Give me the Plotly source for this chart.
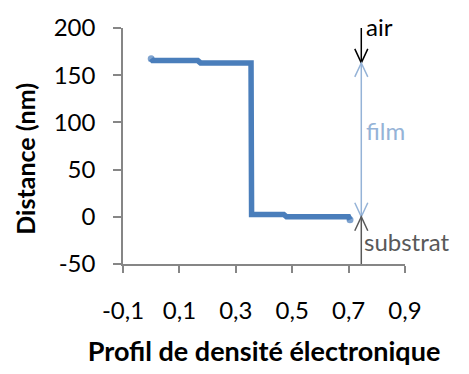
import plotly.graph_objects as go

# Electron density profile vs depth
density = [0.000, 0.005, 0.165, 0.175, 0.354, 0.356, 0.470, 0.480, 0.700, 0.705]
distance = [167.5, 165.5, 165.5, 163.0, 163.0, 2.5, 2.5, 0.0, 0.0, -3.0]

x_ticks = [-0.1, 0.1, 0.3, 0.5, 0.7, 0.9]
x_ticklabels = ["-0,1", "0,1", "0,3", "0,5", "0,7", "0,9"]
y_ticks = [-50, 0, 50, 100, 150, 200]
y_ticklabels = ["-50", "0", "50", "100", "150", "200"]

# Layer markers: film spans from the substrate surface to the air interface
marker_x = 0.745
film_top = 163
film_bottom = 0
air_top = 212
axis_bottom = -50

FONT = "Lato"
BLUE = "#4A7EBB"
LIGHT = "#95B3D7"
GREY = "#595959"
AXIS = "#868686"

fig = go.Figure()
# round caps at both ends of the profile
end_sizes = [7] + [0] * (len(density) - 2) + [7]
fig.add_trace(go.Scatter(
    x=density, y=distance, mode="lines+markers",
    line=dict(color=BLUE, width=5.5),
    marker=dict(color=BLUE, size=end_sizes, line=dict(width=0)),
    showlegend=False, hoverinfo="skip",
))

shapes = []


def vline(y0, y1, color):
    shapes.append(dict(type="line", xref="x", yref="y", x0=marker_x, x1=marker_x,
                       y0=y0, y1=y1, line=dict(color=color, width=1.5)))


def head(y, color, down):
    s = 1 if down else -1
    shapes.append(dict(type="path", xref="x", yref="y",
                       xsizemode="pixel", ysizemode="pixel",
                       xanchor=marker_x, yanchor=y,
                       path=f"M -6.5,{14*s} L 0,0 L 6.5,{14*s}",
                       line=dict(color=color, width=1.5)))


# air arrow (pointing down onto the film surface)
vline(air_top, film_top, "black")
head(film_top, "black", True)
# film double arrow
vline(film_top, film_bottom, LIGHT)
head(film_top, LIGHT, False)
head(film_bottom, LIGHT, True)
# substrate arrow (pointing up to the interface)
vline(axis_bottom, film_bottom, GREY)
head(film_bottom, GREY, False)

W, H = 469, 374
ML, MR, MT, MB = 123, 64, 24, 108
pw, ph = W - ML - MR, H - MT - MB

annotations = [
    dict(x=marker_x, y=196, xref="x", yref="y", text="air", showarrow=False,
         xanchor="left", xshift=3, yshift=5, font=dict(family=FONT, size=24, color="black")),
    dict(x=marker_x, y=87, xref="x", yref="y", text="film", showarrow=False,
         xanchor="left", xshift=3, yshift=4, font=dict(family=FONT, size=24, color=LIGHT)),
    dict(x=marker_x, y=-29, xref="x", yref="y", text="substrat", showarrow=False,
         xanchor="left", xshift=1, yshift=3, font=dict(family=FONT, size=24, color=GREY)),
    # y-axis title, placed in paper coordinates
    dict(x=(25 - ML) / pw, y=(H - MB - 158) / ph, xref="paper", yref="paper",
         xanchor="center", yanchor="middle",
         text="<b>Distance (nm)</b>", showarrow=False, textangle=-90,
         font=dict(family=FONT, size=25, color="black")),
]

fig.update_layout(
    width=W, height=H,
    margin=dict(l=ML, r=MR, t=MT, b=MB, pad=0),
    paper_bgcolor="white", plot_bgcolor="white",
    font=dict(family=FONT, size=24, color="black"),
    shapes=shapes, annotations=annotations,
    xaxis=dict(
        range=[-0.1, 0.9], tickvals=x_ticks, ticktext=x_ticklabels,
        showgrid=False, zeroline=False, showline=True, linecolor=AXIS, linewidth=1.5,
        ticks="outside", ticklen=7, tickcolor=AXIS, tickwidth=1.5,
        ticklabelstandoff=17,
        title=dict(text="<b>Profil de densité électronique</b>", standoff=20,
                   font=dict(family=FONT, size=27)),
    ),
    yaxis=dict(
        range=[-50, 200], tickvals=y_ticks, ticktext=y_ticklabels,
        showgrid=False, zeroline=False, showline=True, linecolor=AXIS, linewidth=1.5,
        ticks="outside", ticklen=8, tickcolor=AXIS, tickwidth=1.5,
        ticklabelstandoff=13,
    ),
)

fig.write_html("out.html")
